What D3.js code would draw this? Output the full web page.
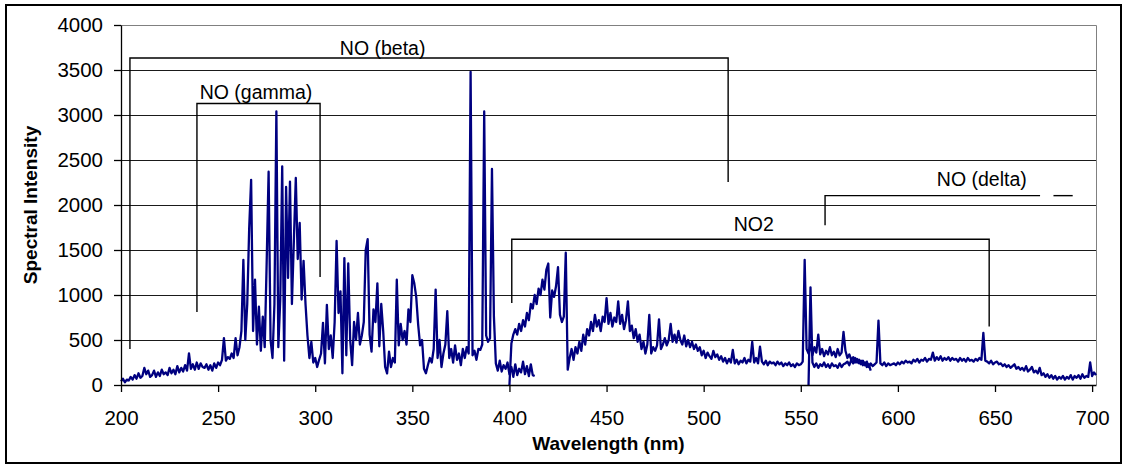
<!DOCTYPE html>
<html>
<head>
<meta charset="utf-8">
<script src="https://cdn.jsdelivr.net/npm/d3@7"></script>
<style>
  html, body { margin: 0; padding: 0; background: #fff; }
  svg { display: block; font-family: "Liberation Sans", Arial, sans-serif; }
</style>
</head>
<body>
<svg id="chart" width="1127" height="465"></svg>
<script>
// Axis ticks
const xTicks = [200, 250, 300, 350, 400, 450, 500, 550, 600, 650, 700];
const yTicks = [0, 500, 1000, 1500, 2000, 2500, 3000, 3500, 4000];

// Spectrum, recorded in three overlapping windows (1 nm steps)
const segAStart = 200; // 200–413 nm
const segA = [
  40, 70, 30, 60, 50, 90, 60, 110, 70, 130,
  80, 100, 190, 120, 160, 90, 110, 160, 90, 140,
  100, 170, 120, 140, 110, 190, 130, 170, 120, 210,
  140, 190, 150, 220, 160, 350, 180, 230, 170, 250,
  180, 240, 200, 190, 230, 170, 220, 160, 240, 190,
  250, 220, 280, 520, 270, 310, 290, 350, 300, 520,
  330, 420, 600, 1390, 500, 900, 1740, 2280, 600, 1170,
  450, 870, 380, 760, 420, 1360, 2370, 500, 300, 900,
  3040, 420, 950, 2430, 270, 2200, 1190, 2260, 900, 1600,
  2300, 1400, 1800, 950, 1380, 900, 550, 300, 480, 250,
  300, 200, 280, 350, 690, 240, 890, 400, 550, 300,
  700, 1600, 800, 1040, 130, 1410, 330, 1350, 500, 220,
  700, 500, 800, 450, 550, 700, 1500, 1620, 560, 370,
  840, 700, 1130, 430, 900, 600, 200, 130, 370, 200,
  300, 250, 1170, 440, 680, 500, 600, 450, 840, 700,
  1220, 1130, 980, 670, 440, 500, 180, 130, 220, 300,
  250, 400, 1060, 300, 500, 200, 350, 450, 820, 300,
  400, 250, 440, 280, 350, 220, 400, 300, 420, 350,
  3480, 330, 380, 280, 400, 390, 450, 3040, 550, 480,
  520, 2400, 760, 240, 160, 270, 150, 220, 180, 250,
  120, 200, 90, 230, 110, 180, 140, 260, 120, 210,
  100, 230, 110, 100
];

const segBStart = 400; // 400–586 nm
const segB = [
  0, 460, 560, 620, 560, 680, 600, 720, 650, 800,
  720, 900, 850, 1000, 900, 1070, 1000, 1170, 1060, 1280,
  1350, 750, 1050, 980, 1100, 1310, 780, 700, 760, 1470,
  170, 300, 400, 280, 420, 350, 480, 380, 560, 450,
  620, 550, 700, 600, 780, 650, 720, 600, 760, 700,
  965, 680, 800, 650, 750, 700, 930, 680, 780, 620,
  720, 930, 600, 660, 520, 620, 480, 560, 400, 480,
  350, 450, 780, 350, 420, 380, 440, 730, 400, 450,
  520, 440, 500, 680, 480, 560, 470, 600, 500, 450,
  550, 430, 500, 420, 480, 400, 450, 380, 420, 330,
  380, 300, 360, 320, 290, 380, 310, 340, 280, 320,
  260, 300, 240, 290, 250, 390, 240, 280, 230, 270,
  250, 300, 240, 280, 260, 480, 250, 300, 240, 425,
  260, 230, 270, 220, 260, 240, 250, 220, 260, 230,
  250, 210, 240, 220, 250, 210, 230, 200, 240, 220,
  230, 260, 1390, 400, 350, 450, 330, 420, 360, 560,
  340, 400, 320, 380, 340, 420, 330, 370, 310, 400,
  330, 360, 590, 380, 300, 340, 280, 310, 250, 290,
  240, 270, 220, 250, 200, 230, 160
];

const segCStart = 554; // 554–702 nm
const segC = [
  0, 1085, 250, 200, 240, 190, 230, 210, 250, 200,
  230, 190, 240, 210, 220, 190, 240, 200, 230, 240,
  260, 220, 280, 240, 300, 250, 280, 230, 270, 220,
  260, 200, 240, 210, 230, 250, 715, 240, 220, 250,
  210, 240, 220, 230, 240, 220, 250, 230, 260, 240,
  270, 250, 260, 240, 280, 260, 290, 250, 280, 270,
  300, 260, 290, 280, 360, 270, 310, 280, 320, 270,
  300, 280, 310, 270, 300, 280, 290, 260, 300, 270,
  290, 260, 300, 270, 280, 260, 290, 270, 300, 280,
  580, 270, 260, 240, 270, 230, 250, 260, 230, 240,
  210, 230, 200, 220, 190, 210, 230, 180, 200, 170,
  190, 160, 210, 150, 170, 200, 140, 160, 130, 190,
  110, 130, 90, 120, 80, 110, 70, 100, 60, 90,
  70, 100, 60, 90, 70, 110, 60, 100, 80, 110,
  70, 120, 80, 100, 90, 250, 100, 140, 110
];

// Band brackets as polylines in [wavelength, intensity]
const bracketBeta  = [[204.6, 400], [204.6, 3633], [512.6, 3633], [512.6, 2256]];
const bracketGamma = [[239.1, 811], [239.1, 3128], [302.5, 3128], [302.5, 1200]];
const bracketNO2   = [[401.2, 911], [401.2, 1619], [647.0, 1619], [647.0, 650]];
const bracketDelta = [[562.5, 1774], [562.5, 2104], [673.2, 2104]];
const bracketDeltaTail = [[680.1, 2104], [690.0, 2104]];

// Band labels: [main, parenthetical, wavelength, intensity at baseline]
const bandLabels = [
  ["NO", "(beta)", 334.7, 3667],
  ["NO", "(gamma)", 269.5, 3178],
  ["NO2", "", 525.8, 1711],
  ["NO", "(delta)", 643.2, 2206]
];

const xTitle = "Wavelength (nm)";
const yTitle = "Spectral Intensity";

// ---- layout ----
const svg = d3.select("#chart");
const plot = { left: 121, right: 1096, top: 25, bottom: 385 };

const x = d3.scaleLinear().domain([200, 702]).range([plot.left, plot.right]);
const y = d3.scaleLinear().domain([0, 4000]).range([plot.bottom, plot.top]);

// outer chart frame
svg.append("rect")
  .attr("x", 6).attr("y", 5)
  .attr("width", 1115).attr("height", 458)
  .attr("fill", "#fff").attr("stroke", "#000").attr("stroke-width", 2);

// horizontal gridlines
svg.append("g")
  .selectAll("line")
  .data(yTicks.filter(d => d > 0 && d < 4000))
  .join("line")
  .attr("x1", plot.left).attr("x2", plot.right)
  .attr("y1", d => Math.round(y(d)) + 0.5).attr("y2", d => Math.round(y(d)) + 0.5)
  .attr("stroke", "#1a1a1a").attr("stroke-width", 1);

// plot-area border (top and right)
svg.append("path")
  .attr("d", `M${plot.left},${plot.top + 0.5}H${plot.right + 0.5}V${plot.bottom}`)
  .attr("fill", "none").attr("stroke", "#808080").attr("stroke-width", 1);

// spectrum: one path per recording window
const segments = [[segAStart, segA], [segBStart, segB], [segCStart, segC]]
  .map(([s, vals]) => vals.map((v, i) => [s + i, v]));
const line = d3.line().x(d => x(d[0])).y(d => y(d[1]));
svg.append("g")
  .selectAll("path")
  .data(segments)
  .join("path")
  .attr("d", line)
  .attr("fill", "none")
  .attr("stroke", "#000080")
  .attr("stroke-width", 2.3)
  .attr("stroke-linejoin", "round");

// axes
const fontTick = "20.5px";
const gx = svg.append("g")
  .attr("transform", `translate(0,${plot.bottom})`)
  .call(d3.axisBottom(x).tickValues(xTicks).tickFormat(d3.format("d"))
    .tickSize(7).tickSizeOuter(0).tickPadding(18));
const gy = svg.append("g")
  .attr("transform", `translate(${plot.left},0)`)
  .call(d3.axisLeft(y).tickValues(yTicks).tickFormat(d3.format("d"))
    .tickSize(7).tickSizeOuter(0).tickPadding(11));
[gx, gy].forEach(g => {
  g.select(".domain").attr("stroke", "#000").attr("stroke-width", 1.3);
  g.selectAll(".tick line").attr("stroke", "#000").attr("stroke-width", 1.3);
  g.selectAll(".tick text")
    .attr("fill", "#000")
    .style("font-family", "'Liberation Sans', Arial, sans-serif")
    .style("font-size", fontTick);
});

// axis titles
svg.append("text")
  .attr("x", (plot.left + plot.right) / 2).attr("y", 450)
  .attr("text-anchor", "middle")
  .style("font-size", "19px").style("font-weight", "bold")
  .text(xTitle);
svg.append("text")
  .attr("transform", `translate(37,${(plot.top + plot.bottom) / 2}) rotate(-90)`)
  .attr("text-anchor", "middle")
  .style("font-size", "19px").style("font-weight", "bold")
  .text(yTitle);

// band brackets
const bline = d3.line().x(d => x(d[0])).y(d => y(d[1]));
svg.append("g")
  .selectAll("path")
  .data([bracketBeta, bracketGamma, bracketNO2, bracketDelta, bracketDeltaTail])
  .join("path")
  .attr("d", bline)
  .attr("fill", "none")
  .attr("stroke", "#000")
  .attr("stroke-width", 1.4);

// band labels
const lab = svg.append("g")
  .selectAll("text")
  .data(bandLabels)
  .join("text")
  .attr("x", d => x(d[2])).attr("y", d => y(d[3]))
  .attr("text-anchor", "middle")
  .style("font-size", "19.5px");
lab.append("tspan").text(d => d[0]);
lab.append("tspan").text(d => d[1] ? " " + d[1] : "");
</script>
</body>
</html>
